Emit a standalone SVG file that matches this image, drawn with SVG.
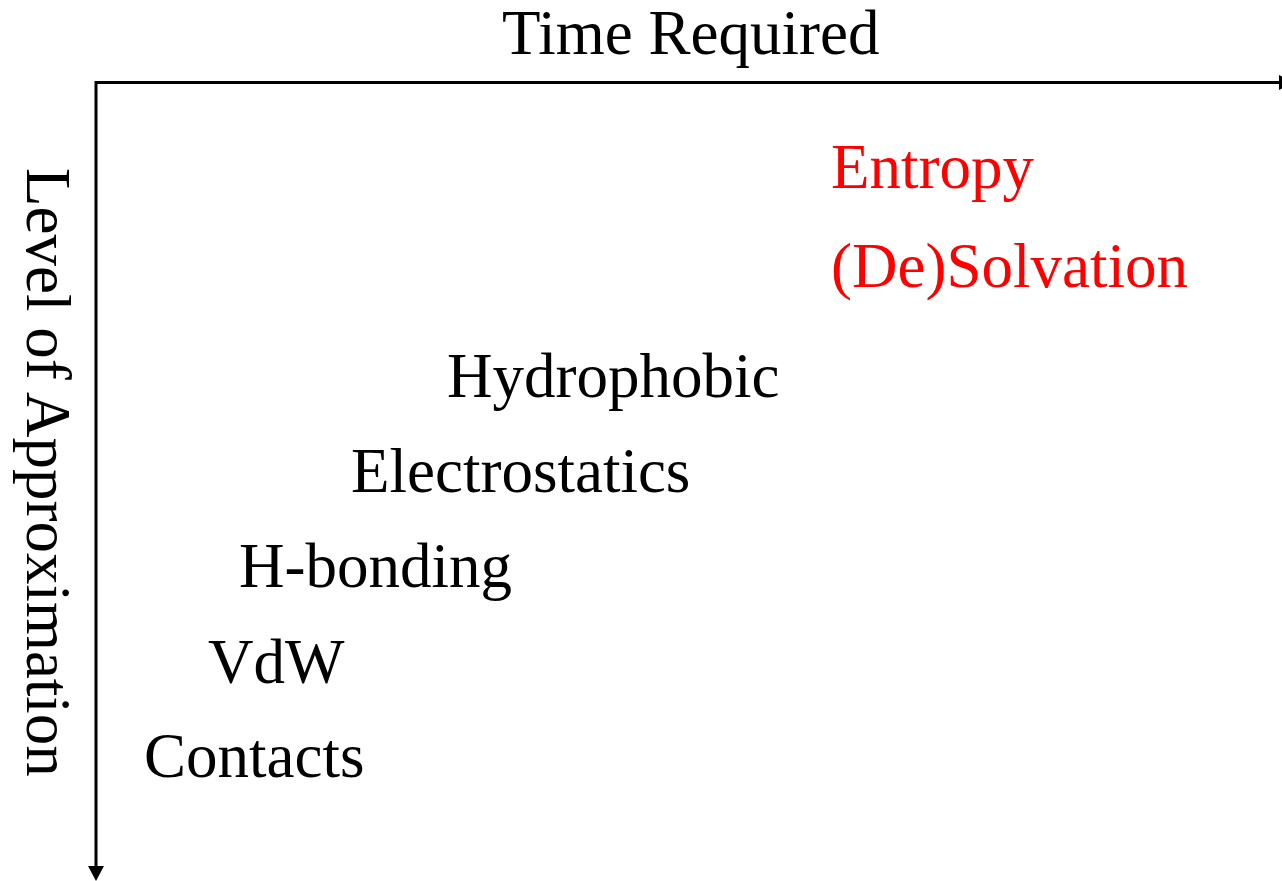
<svg xmlns="http://www.w3.org/2000/svg" width="1282" height="881" viewBox="0 0 1282 881">
  <style>
    .lbl { font-family: "Liberation Serif", "Times New Roman", serif; font-size: 63px; fill: #000; }
    .hot { fill: #ff0000; }
    .axis { stroke: #000; stroke-width: 3; fill: none; }
  </style>
  <rect width="1282" height="881" fill="#fff"/>

  <!-- axes -->
  <g id="connectors">
    <polyline class="axis" points="1280,82.5 96,82.5 96,867"/>
    <polygon points="1279,75 1279,90 1294,82.5" fill="#000"/>
    <polygon points="88,866 104,866 96,881" fill="#000"/>
  </g>

  <!-- axis titles -->
  <g id="axis-time">
    <text class="lbl" x="502" y="54">Time Required</text>
  </g>
  <g id="axis-approx">
    <text class="lbl" transform="translate(27,168) rotate(90)">Level of Approximation</text>
  </g>

  <!-- interaction terms -->
  <g id="entropy"><text class="lbl hot" x="831" y="188">Entropy</text></g>
  <g id="desolvation"><text class="lbl hot" x="831" y="287">(De)Solvation</text></g>
  <g id="hydrophobic"><text class="lbl" x="447" y="397">Hydrophobic</text></g>
  <g id="electrostatics"><text class="lbl" x="351" y="492">Electrostatics</text></g>
  <g id="hbonding"><text class="lbl" x="239" y="587">H-bonding</text></g>
  <g id="vdw"><text class="lbl" x="208" y="683">VdW</text></g>
  <g id="contacts"><text class="lbl" x="144" y="777">Contacts</text></g>
</svg>
